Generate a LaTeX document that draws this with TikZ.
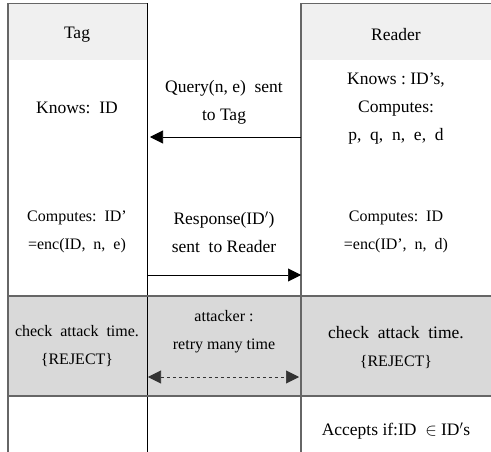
\documentclass[tikz,border=0pt]{standalone}
\usepackage{fontspec}
\setmainfont{Liberation Serif}
\usetikzlibrary{arrows.meta}
\tikzset{txt/.style={inner sep=0pt, align=center, font=\fontsize{17.5}{28}\selectfont}}
\tikzset{sml/.style={inner sep=0pt, align=center, font=\fontsize{16}{28}\selectfont}}
\tikzset{rule/.style={draw=black!60, line width=1.3pt}}
\tikzset{msg/.style={-{Triangle[length=13pt,width=13pt]}, line width=0.6pt}}
\tikzset{retry/.style={{Triangle[length=13pt,width=13pt]}-{Triangle[length=13pt,width=13pt]}, dashed, line width=0.6pt, black!80}}

\begin{document}
\begin{tikzpicture}[x=1pt,y=-1pt]
    \useasboundingbox (0,0) rectangle (491,452);

    % header and attack band
    \fill[black!6]  (8,3.5) rectangle (147,60);
    \fill[black!6]  (301,3.5) rectangle (491,60);
    \fill[black!15] (8,296) rectangle (491,396);

    \draw[rule] (8,452) -- (8,3.5) -- (147,3.5);
    \draw[line width=1pt] (147,3.5) -- (147,452);
    \draw[rule] (301,452) -- (301,3.5) -- (491,3.5);
    \draw[rule] (8,296) -- (491,296);
    \draw[rule] (8,396) -- (491,396);

    \node[txt] (tag)    at (77,35)  {Tag};
    \node[txt] (reader) at (396,35) {Reader};

    \node[txt] (tknows) at (77,108) {Knows:~~ID};
    \node[txt] (query)  at (224,102) {Query(n,~e)~~sent\\to~Tag};
    \node[txt] (rknows) at (396,109) {Knows~:~ID's,\\Computes:\\p,~~q,~~n,~~e,~~d};

    \node[sml] (tcomp)  at (77,232) {Computes:~~ID'\\=enc(ID,~~n,~~e)};
    \node[txt] (resp)   at (224,232) {Response(ID$'$)\\sent~~to~Reader};
    \node[sml] (rcomp)  at (396,232) {Computes:~~ID\\=enc(ID',~~n,~~d)};

    \node[sml] (tcheck) at (77,346)  {check~~attack~~time.\\\{REJECT\}};
    \node[sml] (attack) at (224,332) {attacker~:\\retry~many~time};
    \node[txt] (rcheck) at (396,347) {check~~attack~~time.\\{\fontsize{16}{15}\selectfont\{REJECT\}}};

    \node[txt] (accept) at (396,431) {Accepts~if:ID~~$\in$~ID$'$s};

    \coordinate (qR) at (301,137);
    \coordinate (qT) at (150,137);
    \coordinate (rT) at (147,275);
    \coordinate (rR) at (301,275);
    \coordinate (aT) at (148,377);
    \coordinate (aR) at (299,377);

    \draw[msg] (qR) -- (qT);
    \draw[msg] (rT) -- (rR);
    \draw[retry] (aT) -- (aR);

\end{tikzpicture}
\end{document}
